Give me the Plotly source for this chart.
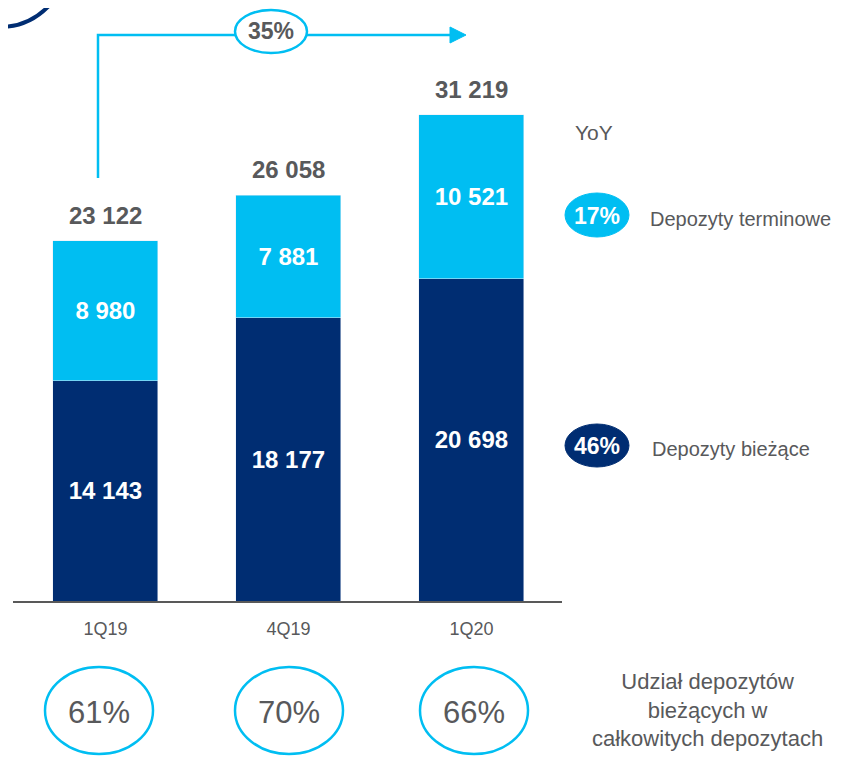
import plotly.graph_objects as go

# data
quarters = ["1Q19", "4Q19", "1Q20"]
current_dep = [14143, 18177, 20698]   # Depozyty bieżące
term_dep = [8980, 7881, 10521]        # Depozyty terminowe
totals = [23122, 26058, 31219]
share_current = ["61%", "70%", "66%"]
yoy_total = "35%"
yoy_term = "17%"
yoy_current = "46%"

NAVY = "#002D72"
CYAN = "#00BEF2"
GRAY = "#58595B"
FONT = "Liberation Sans, Arial, sans-serif"

W, H = 846, 758
OFF = 8                          # page body margin
L, R, T, B = 5, 292, 0, 165      # plot area in pixels


def fmt(v):
    return f"{v:,}".replace(",", " ")


def px(x):
    return (x - OFF - L) / (W - L - R)


def py(y):
    return (H - B - (y - OFF)) / (H - B - T)


fig = go.Figure()
fig.add_trace(go.Bar(
    x=quarters, y=current_dep, marker_color=NAVY, width=0.574,
    text=[f"<b>{fmt(v)}</b>" for v in current_dep], textposition="inside",
    insidetextanchor="middle",
    textfont=dict(color="white", size=24, family=FONT),
    name="Depozyty bieżące",
))
fig.add_trace(go.Bar(
    x=quarters, y=term_dep, marker_color=CYAN, width=0.574,
    text=[f"<b>{fmt(v)}</b>" for v in term_dep], textposition="inside",
    insidetextanchor="middle",
    textfont=dict(color="white", size=24, family=FONT),
    name="Depozyty terminowe",
))

# totals over the bars
for q, t in zip(quarters, totals):
    fig.add_annotation(x=q, y=t, text=f"<b>{fmt(t)}</b>", showarrow=False,
                       yanchor="bottom", yshift=10,
                       font=dict(size=24, color=GRAY, family=FONT))

shapes = []
# decorative arc top-left
shapes.append(dict(type="circle", xref="paper", yref="paper",
                   x0=px(-67), x1=px(67), y0=py(27), y1=py(-107),
                   line=dict(color=NAVY, width=4)))
# growth arrow
shapes.append(dict(type="path", xref="paper", yref="paper",
                   path=f"M {px(98)},{py(178)} L {px(98)},{py(35)} L {px(452)},{py(35)}",
                   line=dict(color=CYAN, width=2.5)))
shapes.append(dict(type="path", xref="paper", yref="paper",
                   path=f"M {px(450)},{py(27)} L {px(466)},{py(35)} L {px(450)},{py(43)} Z",
                   fillcolor=CYAN, line=dict(color=CYAN, width=1)))
shapes.append(dict(type="circle", xref="paper", yref="paper",
                   x0=px(235), x1=px(307), y0=py(10), y1=py(53),
                   fillcolor="white", line=dict(color=CYAN, width=2.5)))
# YoY pills
shapes.append(dict(type="circle", xref="paper", yref="paper",
                   x0=px(565), x1=px(629), y0=py(193), y1=py(237),
                   fillcolor=CYAN, line=dict(color=CYAN, width=1)))
shapes.append(dict(type="circle", xref="paper", yref="paper",
                   x0=px(565), x1=px(629), y0=py(424), y1=py(467),
                   fillcolor=NAVY, line=dict(color=NAVY, width=1)))
# share circles
for cx in [99, 289, 474]:
    shapes.append(dict(type="circle", xref="paper", yref="paper",
                       x0=px(cx - 54), x1=px(cx + 54), y0=py(667), y1=py(754),
                       line=dict(color=CYAN, width=2.5)))

fig.update_layout(shapes=shapes)


def note(x, y, text, size, color=GRAY, xanchor="center"):
    fig.add_annotation(x=px(x), y=py(y), xref="paper", yref="paper",
                       text=text, showarrow=False, align="center",
                       xanchor=xanchor, yanchor="middle",
                       font=dict(size=size, color=color, family=FONT))


note(271, 31, f"<b>{yoy_total}</b>", 23)
note(594, 133, "YoY", 21)
note(597, 216, f"<b>{yoy_term}</b>", 23, "white")
note(597, 446, f"<b>{yoy_current}</b>", 23, "white")
note(648, 219, "Depozyty terminowe", 20, xanchor="left")
note(650, 449, "Depozyty bieżące", 20, xanchor="left")
for cx, s in zip([99, 289, 474], share_current):
    note(cx, 712, s, 31)
note(707, 710, "Udział depozytów<br>bieżących w<br>całkowitych depozytach", 22)

fig.update_layout(
    width=W, height=H,
    margin=dict(l=L, r=R, t=T, b=B),
    barmode="stack",
    showlegend=False,
    plot_bgcolor="white", paper_bgcolor="white",
    font=dict(family=FONT, color=GRAY),
    uniformtext=dict(mode="show", minsize=10),
)
fig.update_xaxes(range=[-0.505, 2.495], showline=True, linecolor="#595959",
                 linewidth=2, ticks="", ticklabelstandoff=10,
                 tickfont=dict(size=18, color=GRAY, family=FONT),
                 showgrid=False, automargin=False, fixedrange=True)
fig.update_yaxes(range=[0, 38086], visible=False, showgrid=False,
                 zeroline=False, automargin=False, fixedrange=True)

fig.write_html("out.html")
